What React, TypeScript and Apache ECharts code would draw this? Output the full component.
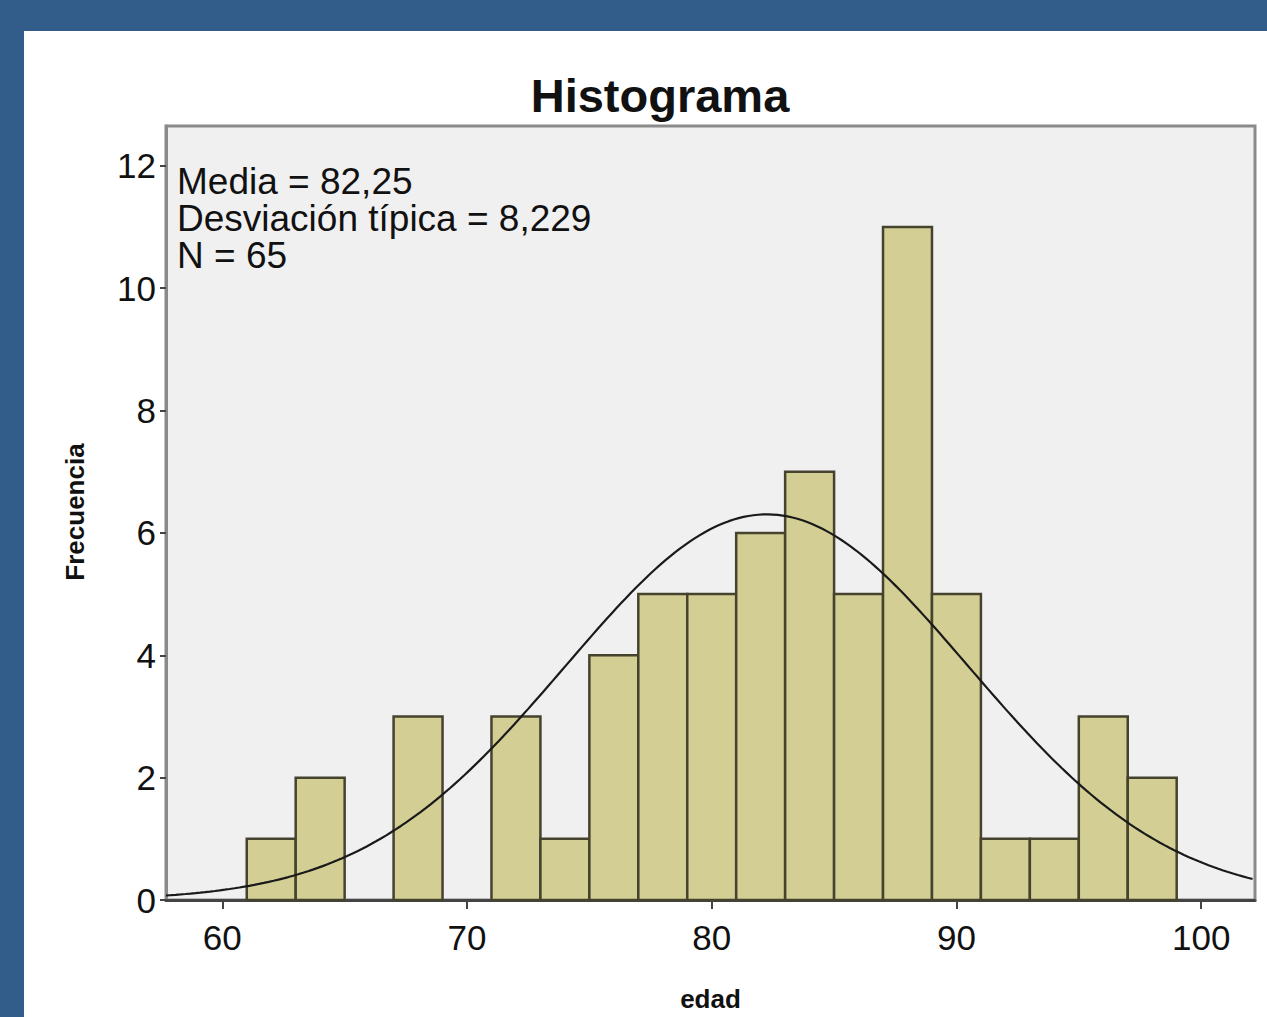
import React, { useEffect, useRef } from "react";
import * as echarts from "echarts";

const BIN_STARTS = [61, 63, 65, 67, 69, 71, 73, 75, 77, 79, 81, 83, 85, 87, 89, 91, 93, 95, 97];
const FREQUENCIES = [1, 2, 0, 3, 0, 3, 1, 4, 5, 5, 6, 7, 5, 11, 5, 1, 1, 3, 2];
const BIN_WIDTH = 2;
const X_TICKS = [60, 70, 80, 90, 100];
const Y_TICKS = [0, 2, 4, 6, 8, 10, 12];
const MEAN = 82.25;
const SD = 8.229;
const N = 65;
const STATS_LINES = ["Media = 82,25", "Desviación típica = 8,229", "N = 65"];

const X_MIN = 57.7;
const X_MAX = 102.2;
const Y_MAX = 12.65;

const FONT = "Arial, 'Liberation Sans', sans-serif";

function normalCurve(): number[][] {
  const pts: number[][] = [];
  const k = (N * BIN_WIDTH) / (SD * Math.sqrt(2 * Math.PI));
  for (let x = X_MIN; x <= X_MAX + 1e-9; x += 0.2) {
    const z = (x - MEAN) / SD;
    pts.push([x, k * Math.exp(-0.5 * z * z)]);
  }
  return pts;
}

export default function App() {
  const ref = useRef<HTMLDivElement>(null);
  useEffect(() => {
    if (!ref.current) return;
    const chart = echarts.init(ref.current, null, { renderer: "svg" });
    const barData = BIN_STARTS.map((s, i) => [s, s + BIN_WIDTH, FREQUENCIES[i]]).filter((d) => d[2] > 0);
    chart.setOption({
      animation: false,
      backgroundColor: "#325c89",
      graphic: [
        { type: "rect", z: -10, shape: { x: 24, y: 31, width: 1243, height: 986 }, style: { fill: "#ffffff" }, silent: true },
        {
          type: "text",
          z: 100,
          left: 177,
          top: 163,
          style: { text: STATS_LINES.join("\n"), font: `37px ${FONT}`, fill: "#111", lineHeight: 37 },
        },
        {
          type: "text",
          z: 100,
          x: 75,
          y: 512,
          rotation: Math.PI / 2,
          style: {
            text: "Frecuencia",
            font: `bold 26px ${FONT}`,
            fill: "#111",
            align: "center",
            verticalAlign: "middle",
          },
        },
      ],
      title: {
        text: "Histograma",
        left: 655,
        textAlign: "center",
        top: 67,
        textStyle: { fontFamily: FONT, fontWeight: "bold", fontSize: 47, color: "#111" },
      },
      grid: {
        left: 166,
        top: 126,
        right: 12,
        bottom: 117,
        show: true,
        backgroundColor: "#f0f0f0",
        borderColor: "#8a8a8a",
        borderWidth: 3,
      },
      xAxis: {
        type: "value",
        min: X_MIN,
        max: X_MAX,
        name: "edad",
        nameLocation: "middle",
        nameGap: 86,
        nameTextStyle: { fontFamily: FONT, fontWeight: "bold", fontSize: 26, color: "#111" },
        splitLine: { show: false },
        axisLine: { show: true, onZero: false, lineStyle: { color: "#444", width: 3 } },
        axisTick: { show: true, customValues: X_TICKS, length: 9, lineStyle: { color: "#444", width: 2 } },
        axisLabel: { customValues: X_TICKS, fontFamily: FONT, fontSize: 35, color: "#111", margin: 20 },
      },
      yAxis: {
        type: "value",
        min: 0,
        max: Y_MAX,
        splitLine: { show: false },
        axisLine: { show: true, lineStyle: { color: "#8a8a8a", width: 3 } },
        axisTick: { show: true, customValues: Y_TICKS, length: 6, lineStyle: { color: "#444", width: 2 } },
        axisLabel: { customValues: Y_TICKS, fontFamily: FONT, fontSize: 35, color: "#111", margin: 10 },
      },
      series: [
        {
          type: "custom",
          data: barData,
          renderItem: (params: any, api: any) => {
            const p0 = api.coord([api.value(0), 0]);
            const p1 = api.coord([api.value(1), api.value(2)]);
            return {
              type: "rect",
              shape: { x: p0[0], y: p1[1], width: p1[0] - p0[0], height: p0[1] - p1[1] },
              style: { fill: "#d3cf94", stroke: "#45422e", lineWidth: 2.5 },
            };
          },
          z: 2,
        },
        {
          type: "line",
          data: normalCurve(),
          showSymbol: false,
          smooth: false,
          lineStyle: { color: "#1a1a1a", width: 2.2 },
          z: 3,
        },
      ],
    });
    return () => chart.dispose();
  }, []);
  return <div ref={ref} style={{ position: "fixed", left: 0, top: 0, width: 1267, height: 1017 }} />;
}
